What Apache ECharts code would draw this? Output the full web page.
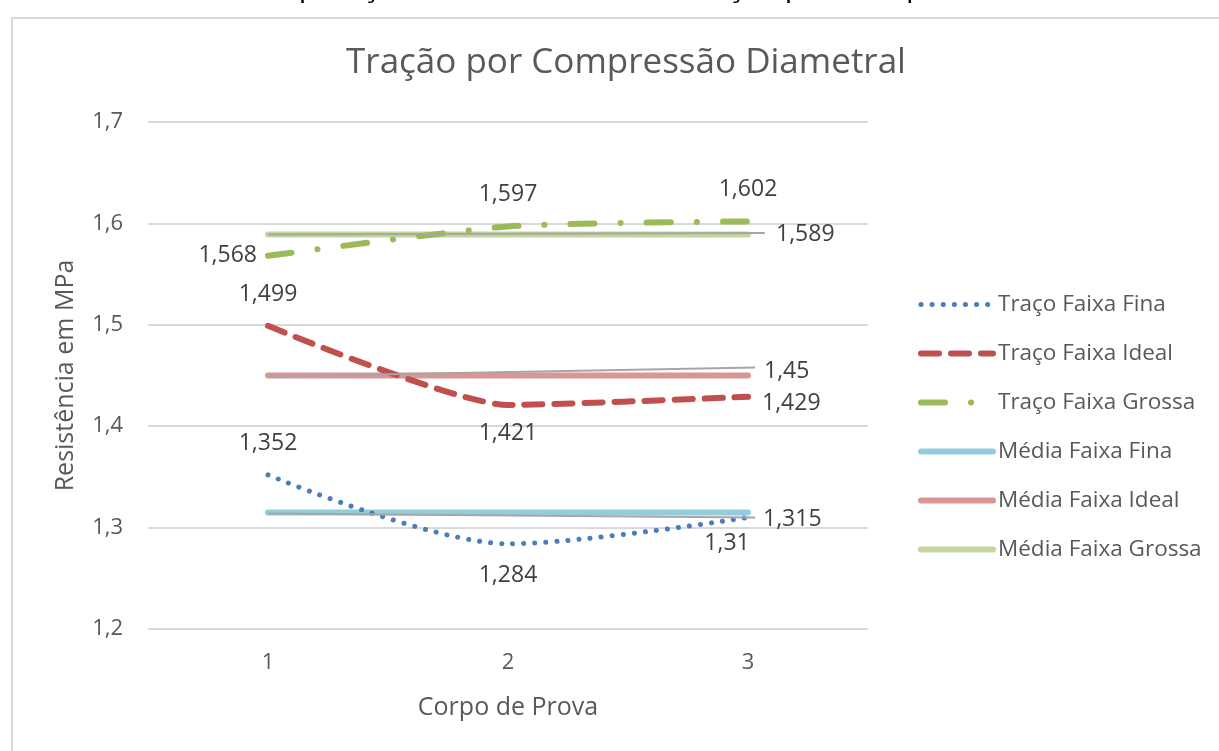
<!DOCTYPE html>
<html>
<head>
<meta charset="utf-8">
<script src="https://cdn.jsdelivr.net/npm/echarts@6/dist/echarts.min.js"></script>
<style>
  html, body { margin: 0; padding: 0; background: #fff; }
  #main { width: 1219px; height: 751px; }
</style>
</head>
<body>
<div id="main"></div>
<script>
// corpos de prova
const xs = [1, 2, 3]
const yTicks = [1.2, 1.3, 1.4, 1.5, 1.6, 1.7]

// Traço (valores medidos)
const tracoFina = [1.352, 1.284, 1.31]
const tracoIdeal = [1.499, 1.421, 1.429]
const tracoGrossa = [1.568, 1.597, 1.602]

// médias
const mediaFina = [1.315, 1.315, 1.315]
const mediaIdeal = [1.45, 1.45, 1.45]
const mediaGrossa = [1.589, 1.589, 1.589]

// linhas cinzas (linha de tendência)
const trendX = [[1, 3.03], [1, 3.03], [1, 3.07]]
const trendFina = [1.314, 1.310]
const trendIdeal = [1.449, 1.458]
const trendGrossa = [1.589, 1.5905]

const FONT = '"Open Sans", "Noto Sans", sans-serif'
const fmt = v => String(v).replace('.', ',')

function pts(vals, labels) {
    return xs.map((x, i) => {
        const item = { value: [x, vals[i]] }
        if (labels && labels[i]) {
            item.label = Object.assign({ show: true }, labels[i])
        }
        return item
    })
}

const labelStyle = {
    color: '#404040',
    fontSize: 23,
    fontFamily: FONT,
    formatter: p => fmt(p.value[1])
}

function lineSeries(name, vals, color, lineStyle, labels, z, smooth) {
    return {
        name: name,
        type: 'line',
        data: pts(vals, labels),
        symbol: 'circle',
        symbolSize: 0,
        smooth: smooth || false,
        z: z,
        color: color,
        lineStyle: Object.assign({ color: color }, lineStyle),
        label: Object.assign({ show: false }, labelStyle),
        emphasis: { disabled: true }
    }
}

function trendSeries(xr, vals) {
    return {
        type: 'line',
        data: xr.map((x, i) => [x, vals[i]]),
        symbol: 'none',
        z: 5,
        lineStyle: { color: '#a6a6a6', width: 2 },
        emphasis: { disabled: true },
        silent: true
    }
}

const chart = echarts.init(document.getElementById('main'))

const option = {
    animation: false,
    backgroundColor: '#fff',
    textStyle: { fontFamily: FONT },
    graphic: [
        {
            type: 'rect',
            shape: { x: 12, y: 18, width: 1400, height: 900 },
            style: { fill: 'none', stroke: '#d9d9d9', lineWidth: 2 },
            silent: true
        },
        {
            type: 'text',
            x: 620,
            y: -13,
            style: {
                text: 'Gráfico 7 – Comparação dos Resultados de Tração por Compressão Diametral',
                fill: '#000',
                font: '30px ' + FONT,
                textAlign: 'center',
                textVerticalAlign: 'middle'
            },
            silent: true
        }
    ],
    title: {
        text: 'Tração por Compressão Diametral',
        left: 621,
        top: 41,
        textAlign: 'center',
        textStyle: {
            color: '#595959',
            fontSize: 35,
            fontWeight: 'normal',
            fontFamily: FONT
        }
    },
    legend: {
        orient: 'vertical',
        left: 913,
        top: 288,
        itemWidth: 72,
        itemHeight: 20,
        itemGap: 26,
        itemStyle: { opacity: 0 },
        lineStyle: { width: 'inherit' },
        data: ['Traço Faixa Fina', 'Traço Faixa Ideal', 'Traço Faixa Grossa',
            'Média Faixa Fina', 'Média Faixa Ideal', 'Média Faixa Grossa'],
        textStyle: {
            color: '#595959',
            fontSize: 22.5,
            fontFamily: FONT,
            padding: [0, 0, 0, 0]
        }
    },
    grid: {
        left: 148,
        right: 351,
        top: 122,
        bottom: 122
    },
    xAxis: {
        type: 'value',
        min: 0.5,
        max: 3.5,
        interval: 0.5,
        name: 'Corpo de Prova',
        nameLocation: 'middle',
        nameGap: 66,
        nameTextStyle: { color: '#595959', fontSize: 25, fontFamily: FONT },
        axisLine: { show: false },
        axisTick: { show: false },
        splitLine: { show: false },
        axisLabel: {
            color: '#595959',
            fontSize: 22,
            fontFamily: FONT,
            margin: 23,
            formatter: v => (xs.indexOf(v) >= 0 ? String(v) : '')
        }
    },
    yAxis: {
        type: 'value',
        min: yTicks[0],
        max: yTicks[yTicks.length - 1],
        interval: 0.1,
        name: 'Resistência em MPa',
        nameLocation: 'middle',
        nameRotate: 90,
        nameGap: 70,
        nameTextStyle: { color: '#595959', fontSize: 25, fontFamily: FONT },
        axisLine: { show: false },
        axisTick: { show: false },
        splitLine: { lineStyle: { color: '#d9d9d9', width: 2 } },
        axisLabel: {
            color: '#595959',
            fontSize: 22,
            fontFamily: FONT,
            margin: 25,
            formatter: v => v.toFixed(1).replace('.', ',')
        }
    },
    series: [
        lineSeries('Traço Faixa Fina', tracoFina, '#4a7ebb',
            { width: 5, type: [0.1, 11], cap: 'round' },
            [{ position: 'top', distance: 20 },
             { position: 'bottom', distance: 20 },
             { position: 'bottom', distance: 14, offset: [-21, 0] }], 3, 0.3),
        lineSeries('Traço Faixa Ideal', tracoIdeal, '#c0504d',
            { width: 6, type: [18, 12], cap: 'round' },
            [{ position: 'top', distance: 20 },
             { position: 'bottom', distance: 17 },
             { position: 'right', distance: 14, offset: [0, 7] }], 3, 0.2),
        lineSeries('Traço Faixa Grossa', tracoGrossa, '#9bbb59',
            { width: 6, type: [24, 26, 0.1, 26], cap: 'round' },
            [{ position: 'left', distance: 11 },
             { position: 'top', distance: 20 },
             { position: 'top', distance: 20 }], 3, 0.2),
        lineSeries('Média Faixa Fina', mediaFina, '#93cddd',
            { width: 6, cap: 'round' },
            [null, null, { position: 'right', distance: 15, offset: [0, 7] }], 2),
        lineSeries('Média Faixa Ideal', mediaIdeal, '#d99694',
            { width: 6, cap: 'round' },
            [null, null, { position: 'right', distance: 16, offset: [0, -4] }], 2),
        lineSeries('Média Faixa Grossa', mediaGrossa, '#c3d69b',
            { width: 6, cap: 'round' },
            [null, null, { position: 'right', distance: 28, offset: [0, 0] }], 2),
        trendSeries(trendX[0], trendFina),
        trendSeries(trendX[1], trendIdeal),
        trendSeries(trendX[2], trendGrossa)
    ]
}

chart.setOption(option)
</script>
</body>
</html>
